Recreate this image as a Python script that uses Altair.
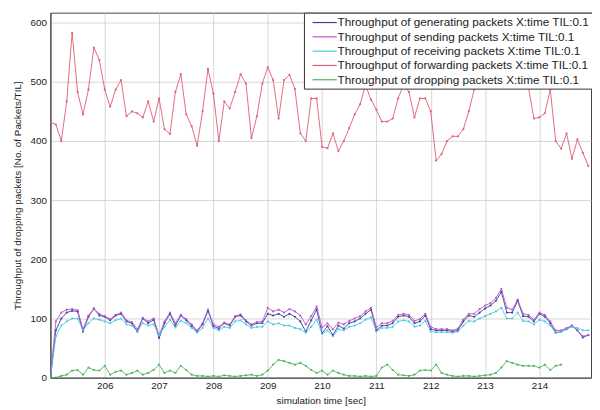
import altair as alt
import pandas as pd

series_names = [
    "Throughput of generating packets X:time TIL:0.1",
    "Throughput of sending packets X:time TIL:0.1",
    "Throughput of receiving packets X:time TIL:0.1",
    "Throughput of forwarding packets X:time TIL:0.1",
    "Throughput of dropping packets X:time TIL:0.1",
]
series_colors = ["#34409a", "#c050c8", "#48c8e0", "#e05a72", "#48b450"]

t_start = 205.0
t_step = 0.1

generating = [0, 80, 100, 110, 113, 112, 78, 103, 117, 105,
              103, 97, 105, 108, 95, 92, 78, 100, 92, 98,
              67, 92, 108, 88, 105, 97, 87, 78, 90, 113,
              87, 83, 92, 88, 103, 105, 95, 88, 92, 92,
              108, 105, 108, 103, 108, 103, 95, 78, 97, 115,
              75, 87, 72, 88, 83, 92, 95, 100, 108, 115,
              80, 88, 88, 92, 103, 105, 103, 92, 95, 105,
              82, 80, 80, 80, 78, 80, 95, 105, 103, 110,
              117, 122, 130, 145, 110, 110, 130, 104, 103, 95,
              108, 103, 92, 76, 78, 82, 88, 80, 68, 72]

sending = [0, 95, 110, 115, 116, 114, 82, 105, 116, 108,
           104, 99, 106, 110, 97, 94, 82, 101, 95, 100,
           72, 95, 110, 92, 106, 99, 90, 80, 92, 115,
           90, 86, 93, 90, 104, 107, 97, 90, 94, 95,
           118, 112, 115, 110, 116, 112, 105, 90, 104, 120,
           85, 92, 82, 93, 90, 96, 100, 104, 112, 118,
           85, 92, 92, 96, 106, 108, 106, 96, 99, 108,
           86, 82, 82, 82, 80, 83, 98, 108, 108, 116,
           122, 126, 135, 150, 118, 115, 132, 108, 106, 98,
           110, 106, 95, 80, 80, 84, 88, 80, 70, 72]

receiving = [0, 70, 88, 95, 100, 100, 80, 92, 100, 98,
             95, 92, 97, 100, 90, 88, 78, 92, 88, 90,
             72, 86, 98, 85, 96, 92, 84, 76, 84, 100,
             84, 80, 86, 84, 95, 97, 90, 84, 86, 86,
             95, 90, 92, 88, 88, 84, 82, 76, 86, 98,
             74, 80, 70, 82, 80, 86, 88, 92, 98, 102,
             78, 84, 84, 86, 95, 97, 95, 86, 88, 96,
             78, 77, 77, 77, 76, 78, 88, 96, 95, 100,
             104, 108, 112, 118, 100, 100, 110, 96, 95, 90,
             98, 95, 88, 76, 78, 82, 86, 84, 80, 80]

forwarding = [432, 428, 400, 467, 583, 483, 445, 487, 558, 537,
              487, 458, 487, 503, 442, 450, 447, 440, 467, 433,
              472, 420, 412, 483, 513, 445, 425, 392, 450, 522,
              480, 400, 467, 455, 483, 513, 497, 405, 442, 497,
              525, 503, 438, 503, 512, 488, 413, 400, 472, 472,
              390, 388, 413, 383, 400, 422, 445, 462, 495, 470,
              453, 433, 433, 438, 472, 495, 483, 440, 472, 472,
              450, 367, 378, 400, 408, 408, 420, 450, 487, 520,
              545, 560, 535, 550, 515, 540, 520, 505, 490, 438,
              440, 447, 487, 400, 387, 413, 370, 403, 380, 358]

dropping = [0, 0, 3, 5, 12, 13, 5, 17, 13, 12,
            20, 5, 10, 12, 5, 8, 12, 5, 8, 13,
            22, 8, 12, 8, 20, 13, 5, 3, 3, 2,
            3, 2, 4, 3, 2, 3, 4, 5, 3, 5,
            12, 22, 30, 28, 25, 22, 25, 20, 13, 8,
            12, 5, 12, 8, 5, 3, 3, 2, 3, 2,
            3, 17, 22, 13, 5, 4, 3, 5, 12, 13,
            12, 22, 8, 5, 3, 2, 3, 3, 2, 3,
            4, 5, 8, 17, 28, 25, 22, 20, 20, 20,
            17, 22, 13, 20, 22]

x_ticks = [206, 207, 208, 209, 210, 211, 212, 213, 214]
y_ticks = [0, 100, 200, 300, 400, 500, 600]

rows = []
for k, (name, vals) in enumerate(zip(series_names,
                                     [generating, sending, receiving, forwarding, dropping])):
    for i, v in enumerate(vals):
        rows.append({"series": name, "order": k, "t": round(t_start + t_step * i, 2), "value": v})
df = pd.DataFrame(rows)

color_scale = alt.Scale(domain=series_names, range=series_colors)
x_enc = alt.X("t:Q", scale=alt.Scale(domain=[205, 214.95], nice=False, zero=False),
              axis=alt.Axis(values=x_ticks, title="simulation time [sec]", format="d",
                            labelPadding=3, titleY=26, titleBaseline="alphabetic"))
y_enc = alt.Y("value:Q", scale=alt.Scale(domain=[0, 617], nice=False),
              axis=alt.Axis(values=y_ticks,
                            title="Throughput of dropping packets [No. of Packets/TIL]"))

lines = alt.Chart(df).mark_line(strokeWidth=0.9, clip=True).encode(
    x=x_enc, y=y_enc,
    color=alt.Color("series:N", scale=color_scale,
                    legend=alt.Legend(title=None, orient="none", legendX=257, legendY=0,
                                      symbolType="M-2,0L2,0", symbolSize=150,
                                      symbolStrokeWidth=1.2, symbolOffset=11,
                                      labelFontSize=11.9, labelFont="Liberation Sans",
                                      labelColor="#222", labelLimit=400, labelOffset=6,
                                      fillColor="white", strokeColor="#333",
                                      padding=3, rowPadding=1.5)),
    detail="series:N",
)
points = alt.Chart(df).mark_circle(size=5, opacity=0.9, clip=True).encode(
    x="t:Q", y="value:Q",
    color=alt.Color("series:N", scale=color_scale, legend=None),
)

chart = alt.layer(lines, points).properties(
    width=548, height=370,
    autosize=alt.AutoSizeParams(type="none"),
    padding={"left": 43, "top": 2, "right": 1, "bottom": 28},
).configure_view(
    stroke="#444", strokeWidth=1
).configure_axis(
    labelFont="Liberation Sans", titleFont="Liberation Sans",
    labelFontSize=10, titleFontSize=10, titleFontWeight="normal",
    labelColor="#222", titleColor="#222",
    gridColor="#c4c4c4", gridWidth=0.7,
    domainColor="#444", ticks=False, labelPadding=4,
).configure_axisY(
    titlePadding=8
)

chart.save("out.html", embed_options={"renderer": "svg", "actions": False})
